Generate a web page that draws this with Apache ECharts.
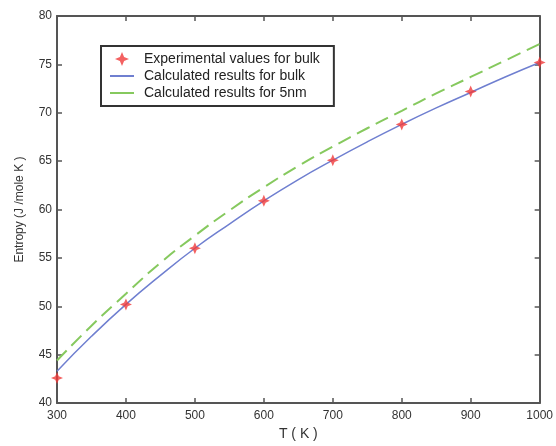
<!DOCTYPE html>
<html>
<head>
<meta charset="utf-8">
<script src="https://cdn.jsdelivr.net/npm/echarts@6/dist/echarts.min.js"></script>
<style>html,body{margin:0;padding:0;background:#fff}#c{width:556px;height:446px}</style>
</head>
<body>
<div id="c"></div>
<script>
var expT = [300, 400, 500, 600, 700, 800, 900, 1000];
var expS = [42.6, 50.2, 56.0, 60.9, 65.1, 68.8, 72.2, 75.2];
var calcT = [300, 350, 400, 450, 500, 550, 600, 650, 700, 750, 800, 850, 900, 950, 1000];
var bulkS = [43.3, 46.9, 50.2, 53.2, 56.0, 58.5, 60.9, 63.1, 65.1, 67.0, 68.8, 70.5, 72.1, 73.7, 75.2];
var nanoS = [44.4, 48.0, 51.3, 54.5, 57.3, 59.9, 62.3, 64.5, 66.5, 68.4, 70.2, 72.0, 73.7, 75.4, 77.1];
var xTicks = [300, 400, 500, 600, 700, 800, 900, 1000];
var yTicks = [40, 45, 50, 55, 60, 65, 70, 75, 80];
var names = ['Experimental values for bulk', 'Calculated results for bulk', 'Calculated results for 5nm'];

function zip(a, b) { return a.map(function (v, i) { return [v, b[i]]; }); }

var font = 'Liberation Sans, Arial, sans-serif';
var axisCol = '#555';
var chart = echarts.init(document.getElementById('c'), null, { renderer: 'canvas' });
var star = 'path://M0,-10 L3,-3 L10,0 L3,3 L0,10 L-3,3 L-10,0 L-3,-3 Z';

chart.setOption({
  animation: false,
  backgroundColor: '#fff',
  grid: { left: 57, top: 16, right: 14, bottom: 38, containLabel: false },
  legend: {
    left: 101, top: 46, orient: 'vertical',
    backgroundColor: '#fff', borderColor: '#333', borderWidth: 2,
    padding: [6, 14, 6, 8], itemGap: 3, itemWidth: 24, itemHeight: 14,
    textStyle: { fontFamily: font, fontSize: 14, color: '#222', padding: [0, 0, 0, 5] },
    data: [
      { name: names[0] },
      { name: names[1], itemStyle: { opacity: 0 } },
      { name: names[2], itemStyle: { opacity: 0 }, lineStyle: { type: 'solid' } }
    ]
  },
  xAxis: [{
    type: 'value', min: 300, max: 1000, interval: 100,
    name: 'T ( K )', nameLocation: 'middle', nameGap: 23,
    nameTextStyle: { fontFamily: font, fontSize: 14, color: '#333' },
    axisLine: { show: true, lineStyle: { color: axisCol, width: 2 } },
    axisTick: { show: true, inside: true, length: 5, lineStyle: { color: axisCol, width: 1.5 } },
    axisLabel: { fontFamily: font, fontSize: 12, color: '#333', margin: 7,
      formatter: function (v) { return xTicks.indexOf(v) >= 0 ? String(v) : ''; } },
    splitLine: { show: false }
  }, {
    type: 'value', position: 'top', min: 300, max: 1000, interval: 100,
    axisLine: { show: true, lineStyle: { color: axisCol, width: 2 } },
    axisTick: { show: true, inside: true, length: 5, lineStyle: { color: axisCol, width: 1.5 } },
    axisLabel: { show: false }, splitLine: { show: false }
  }],
  yAxis: [{
    type: 'value', min: 40, max: 80, interval: 5,
    name: 'Entropy (J /mole K )', nameLocation: 'middle', nameGap: 31,
    nameTextStyle: { fontFamily: font, fontSize: 12, color: '#333' },
    axisLine: { show: true, lineStyle: { color: axisCol, width: 2 } },
    axisTick: { show: true, inside: true, length: 5, lineStyle: { color: axisCol, width: 1.5 } },
    axisLabel: { fontFamily: font, fontSize: 12, color: '#333', margin: 5,
      formatter: function (v) { return yTicks.indexOf(v) >= 0 ? String(v) : ''; } },
    splitLine: { show: false }
  }, {
    type: 'value', position: 'right', min: 40, max: 80, interval: 5,
    axisLine: { show: true, lineStyle: { color: axisCol, width: 2 } },
    axisTick: { show: true, inside: true, length: 5, lineStyle: { color: axisCol, width: 1.5 } },
    axisLabel: { show: false }, splitLine: { show: false }
  }],
  series: [{
    name: names[1], type: 'line', smooth: true, symbol: 'none',
    data: zip(calcT, bulkS),
    lineStyle: { color: '#6f7fd0', width: 1.5 }, itemStyle: { color: '#6f7fd0' }, z: 2
  }, {
    name: names[2], type: 'line', smooth: true, symbol: 'none',
    data: zip(calcT, nanoS),
    lineStyle: { color: '#86c95e', width: 2, type: [14, 7] }, itemStyle: { color: '#86c95e' }, z: 2
  }, {
    name: names[0], type: 'scatter', symbol: star, symbolSize: 12,
    data: zip(expT, expS),
    itemStyle: { color: '#f03a3a' }, z: 3
  }]
});
</script>
</body>
</html>
